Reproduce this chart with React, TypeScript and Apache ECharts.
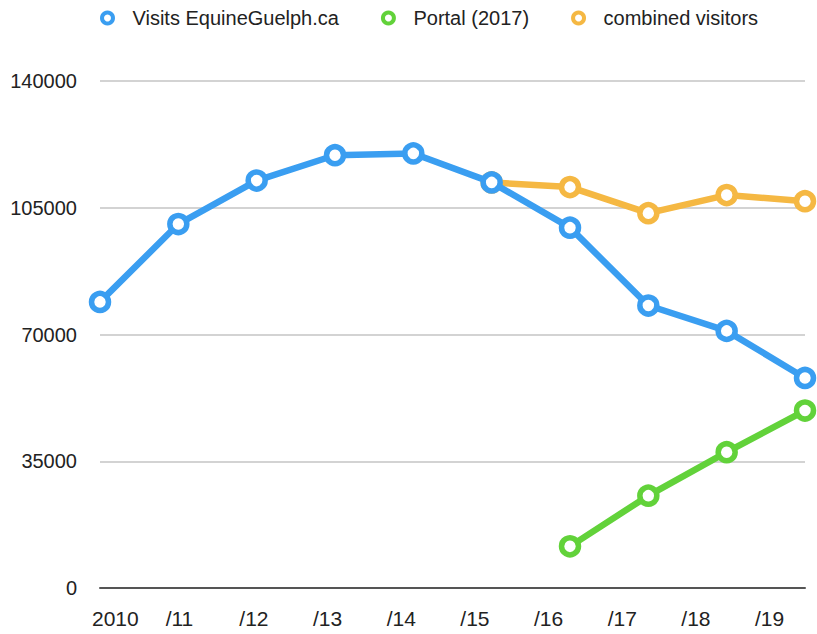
import React, { useEffect, useRef } from "react";
import * as echarts from "echarts";

const years = ["2010", "/11", "/12", "/13", "/14", "/15", "/16", "/17", "/18", "/19"];
const visits = [79000, 100500, 112500, 119500, 120000, 112000, 99500, 78000, 71000, 58000];
const portal = [null, null, null, null, null, null, 11500, 25500, 37500, 49000];
const combined = [null, null, null, null, null, 112000, 110700, 103500, 108500, 106800];
const yTicks = { min: 0, max: 140000, interval: 35000 };

const BLUE = "#3a9ef1";
const GREEN = "#62d23a";
const ORANGE = "#f5b843";
const FONT = "'Liberation Sans', Arial, Helvetica, sans-serif";

export default function App() {
  const ref = useRef<HTMLDivElement>(null);
  useEffect(() => {
    if (!ref.current) return;
    const chart = echarts.init(ref.current, null, { renderer: "svg" });
    const lineSeries = (name: string, data: (number | null)[], color: string, z: number) => ({
      name,
      type: "line",
      data,
      xAxisIndex: 0,
      yAxisIndex: 0,
      symbol: "circle",
      symbolSize: 17,
      showAllSymbol: true,
      connectNulls: false,
      z,
      lineStyle: { color, width: 6.5 },
      itemStyle: { color: "#ffffff", borderColor: color, borderWidth: 5.5 },
      emphasis: { disabled: true },
    });
    chart.setOption({
      animation: false,
      backgroundColor: "#ffffff",
      textStyle: { fontFamily: FONT },
      legend: {
        left: 95,
        top: 3,
        itemWidth: 40,
        itemHeight: 11,
        itemGap: 42,
        textStyle: { fontSize: 20, color: "#222", fontFamily: FONT },
        data: [
          { name: "Visits EquineGuelph.ca", icon: "circle", itemStyle: { color: "#fff", borderColor: BLUE, borderWidth: 4 } },
          { name: "Portal (2017)", icon: "circle", itemStyle: { color: "#fff", borderColor: GREEN, borderWidth: 4 } },
          { name: "combined visitors", icon: "circle", itemStyle: { color: "#fff", borderColor: ORANGE, borderWidth: 4 } },
        ],
      },
      grid: [
        { left: 100, right: 12, top: 81, bottom: 46 },
        { left: 92, right: 62, top: 81, bottom: 46 },
      ],
      xAxis: [
        {
          type: "category",
          gridIndex: 0,
          data: years,
          boundaryGap: false,
          axisLine: { show: true, lineStyle: { color: "#555", width: 2 } },
          axisTick: { show: false },
          axisLabel: { show: false },
          splitLine: { show: false },
        },
        {
          type: "category",
          gridIndex: 1,
          data: years,
          boundaryGap: false,
          axisLine: { show: false },
          axisTick: { show: false },
          axisLabel: { show: true, align: "left", margin: 20, fontSize: 21, color: "#222", fontFamily: FONT },
          splitLine: { show: false },
        },
      ],
      yAxis: [
        {
          type: "value",
          gridIndex: 0,
          min: yTicks.min,
          max: yTicks.max,
          interval: yTicks.interval,
          axisLine: { show: false },
          axisTick: { show: false },
          axisLabel: {
            margin: 23,
            fontSize: 20,
            color: "#222",
            fontFamily: FONT,
            formatter: (v: number) => String(v),
          },
          splitLine: { show: true, lineStyle: { color: "#c4c4c4", width: 1.5 } },
        },
        {
          type: "value",
          gridIndex: 1,
          min: yTicks.min,
          max: yTicks.max,
          interval: yTicks.interval,
          show: false,
          splitLine: { show: false },
        },
      ],
      series: [
        lineSeries("combined visitors", combined, ORANGE, 2),
        lineSeries("Portal (2017)", portal, GREEN, 3),
        lineSeries("Visits EquineGuelph.ca", visits, BLUE, 4),
      ],
    });
    return () => chart.dispose();
  }, []);
  return (
    <div
      ref={ref}
      style={{ position: "absolute", left: 0, top: 0, width: 817, height: 634 }}
    />
  );
}
